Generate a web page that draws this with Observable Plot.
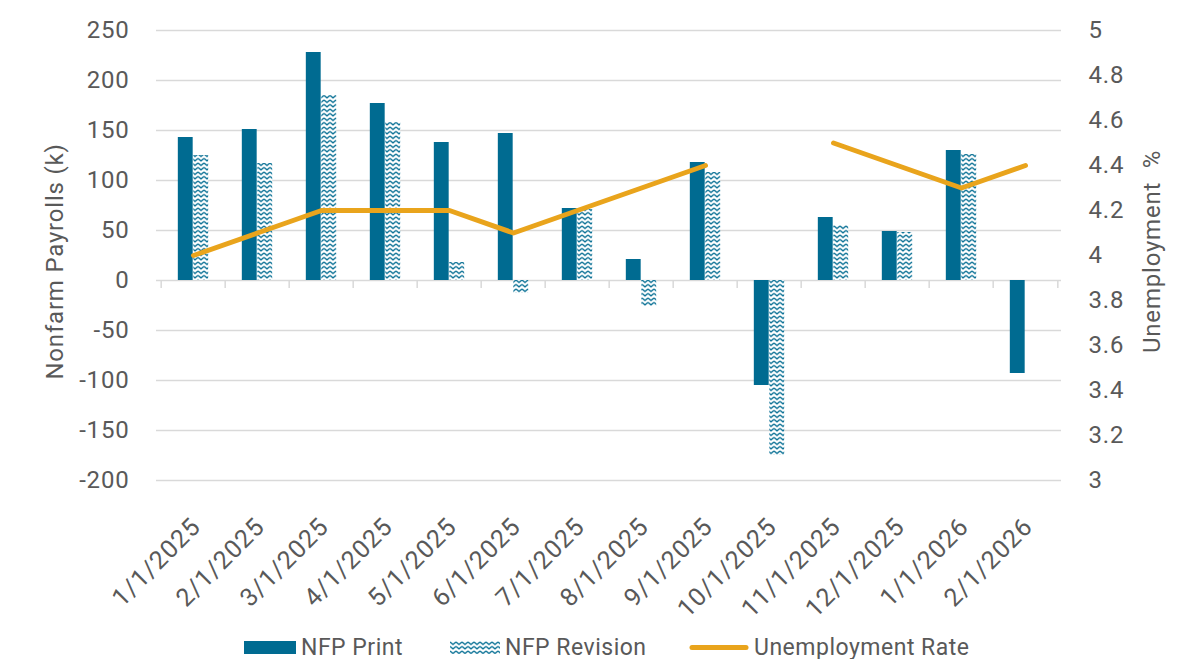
<!DOCTYPE html>
<html><head><meta charset="utf-8">
<script src="https://cdn.jsdelivr.net/npm/d3@7"></script>
<script src="https://cdn.jsdelivr.net/npm/@observablehq/plot@0.6"></script>
<style>
body{margin:0;background:#fff;font-family:Roboto,"Open Sans",sans-serif;}
#chart svg{display:block;}
#legend{position:relative;height:24px;font-size:23px;color:#595959;letter-spacing:0.5px;}
.item{position:absolute;top:0;height:24px;display:flex;align-items:center;}
.item svg{margin-right:5px;}
</style></head><body>
<div id="chart"></div>
<div id="legend">
  <div class="item" style="left:244px"><svg width="52" height="13"><rect width="52" height="13" fill="#006b91"/></svg>NFP Print</div>
  <div class="item" style="left:450px"><svg width="50" height="13"><defs><pattern id="waveL" width="6" height="4.5" patternUnits="userSpaceOnUse"><path d="M0 1 L3 3.4 L6 1" fill="none" stroke="#006b91" stroke-width="1.4"/></pattern></defs><rect width="50" height="13" fill="url(#waveL)"/></svg>NFP Revision</div>
  <div class="item" style="left:689px"><svg width="60" height="13"><line x1="3" x2="57" y1="6.5" y2="6.5" stroke="#e9a41c" stroke-width="5" stroke-linecap="round"/></svg>Unemployment Rate</div>
</div>
<script>
const dates = ["1/1/2025","2/1/2025","3/1/2025","4/1/2025","5/1/2025","6/1/2025","7/1/2025","8/1/2025","9/1/2025","10/1/2025","11/1/2025","12/1/2025","1/1/2026","2/1/2026"];
const nfpPrint = [143,151,228,177,138,147,72,21,118,-105,63,49,130,-93];
const nfpRevision = [125,117,185,158,18,-13,71,-26,108,-175,55,48,126,null];
const unemployment = [4.0,4.1,4.2,4.2,4.2,4.1,4.2,4.3,4.4,null,4.5,4.4,4.3,4.4];
const leftTicks = [-200,-150,-100,-50,0,50,100,150,200,250];
const rightTicks = [3,3.2,3.4,3.6,3.8,4,4.2,4.4,4.6,4.8,5];

const blue = "#006b91", orange = "#e9a41c", grey = "#595959";
const W = 1200, H = 635, mL = 156, mR = 139, mT = 30, mB = H - 480;
const step = (W - mL - mR) / dates.length;
const barW = 15.5;
// map unemployment (3..5) onto payroll axis (-200..250)
const toLeft = u => (u - 3) * 225 - 200;
const toRight = v => (v + 200) / 225 + 3;

const rows = dates.map((d, i) => ({date: d, print: nfpPrint[i], rev: nfpRevision[i], ur: unemployment[i] == null ? NaN : toLeft(unemployment[i])}));

const chart = Plot.plot({
  width: W, height: H,
  marginLeft: mL, marginRight: mR, marginTop: mT, marginBottom: mB,
  style: {fontFamily: "Roboto, 'Open Sans', sans-serif", fontSize: "24px", color: grey, background: "#fff", letterSpacing: "0.8px"},
  x: {type: "band", domain: dates, padding: 0},
  y: {domain: [-200, 250]},
  marks: [
    Plot.ruleY(leftTicks, {stroke: "#d9d9d9", strokeWidth: 1.5}),
    Plot.ruleX(dates, {x: d => d, y1: 0, y2: 0, insetBottom: -8, dx: -step / 2, stroke: "#d9d9d9", strokeWidth: 1.5}),
    Plot.ruleX(dates.slice(-1), {x: d => d, y1: 0, y2: 0, insetBottom: -8, dx: step / 2, stroke: "#d9d9d9", strokeWidth: 1.5}),
    Plot.barY(rows, {x: "date", y: "print", fill: blue, insetLeft: step / 2 - barW, insetRight: step / 2}),
    Plot.barY(rows.filter(r => r.rev != null), {x: "date", y: "rev", fill: "url(#wave)", insetLeft: step / 2, insetRight: step / 2 - barW}),
    Plot.line(rows, {x: "date", y: "ur", stroke: orange, strokeWidth: 5, strokeLinejoin: "round", strokeLinecap: "round"}),
    Plot.axisY({anchor: "left", ticks: leftTicks, tickSize: 0, tickPadding: 27, tickFormat: d => String(d), label: null}),
    Plot.axisY({anchor: "right", ticks: rightTicks.map(toLeft), tickSize: 0, tickPadding: 27, tickFormat: v => String(+toRight(v).toFixed(1)), label: null}),
    Plot.axisX({anchor: "bottom", tickRotate: -45, tickSize: 0, tickPadding: 34, dy: 8, dx: 3, label: null, fontSize: 25}),
    Plot.text(["Nonfarm Payrolls (k)"], {frameAnchor: "left", textAnchor: "middle", dx: -101, dy: 6, rotate: -90, fontSize: 24, fill: grey}),
    Plot.text(["Unemployment  %"], {frameAnchor: "right", textAnchor: "middle", dx: 91, dy: -4, rotate: -90, fontSize: 24, fill: grey})
  ]
});

const ns = "http://www.w3.org/2000/svg";
const defs = document.createElementNS(ns, "defs");
defs.innerHTML = `<pattern id="wave" width="6" height="4.5" patternUnits="userSpaceOnUse"><rect width="6" height="4.5" fill="#fff"/><path d="M0 1 L3 3.4 L6 1" fill="none" stroke="${blue}" stroke-width="1.4"/></pattern>`;
chart.insertBefore(defs, chart.firstChild);
chart.querySelectorAll('g[aria-label="x-axis tick label"]').forEach(g => g.setAttribute("letter-spacing", "1px"));
document.getElementById("chart").appendChild(chart);
</script>
</body></html>
